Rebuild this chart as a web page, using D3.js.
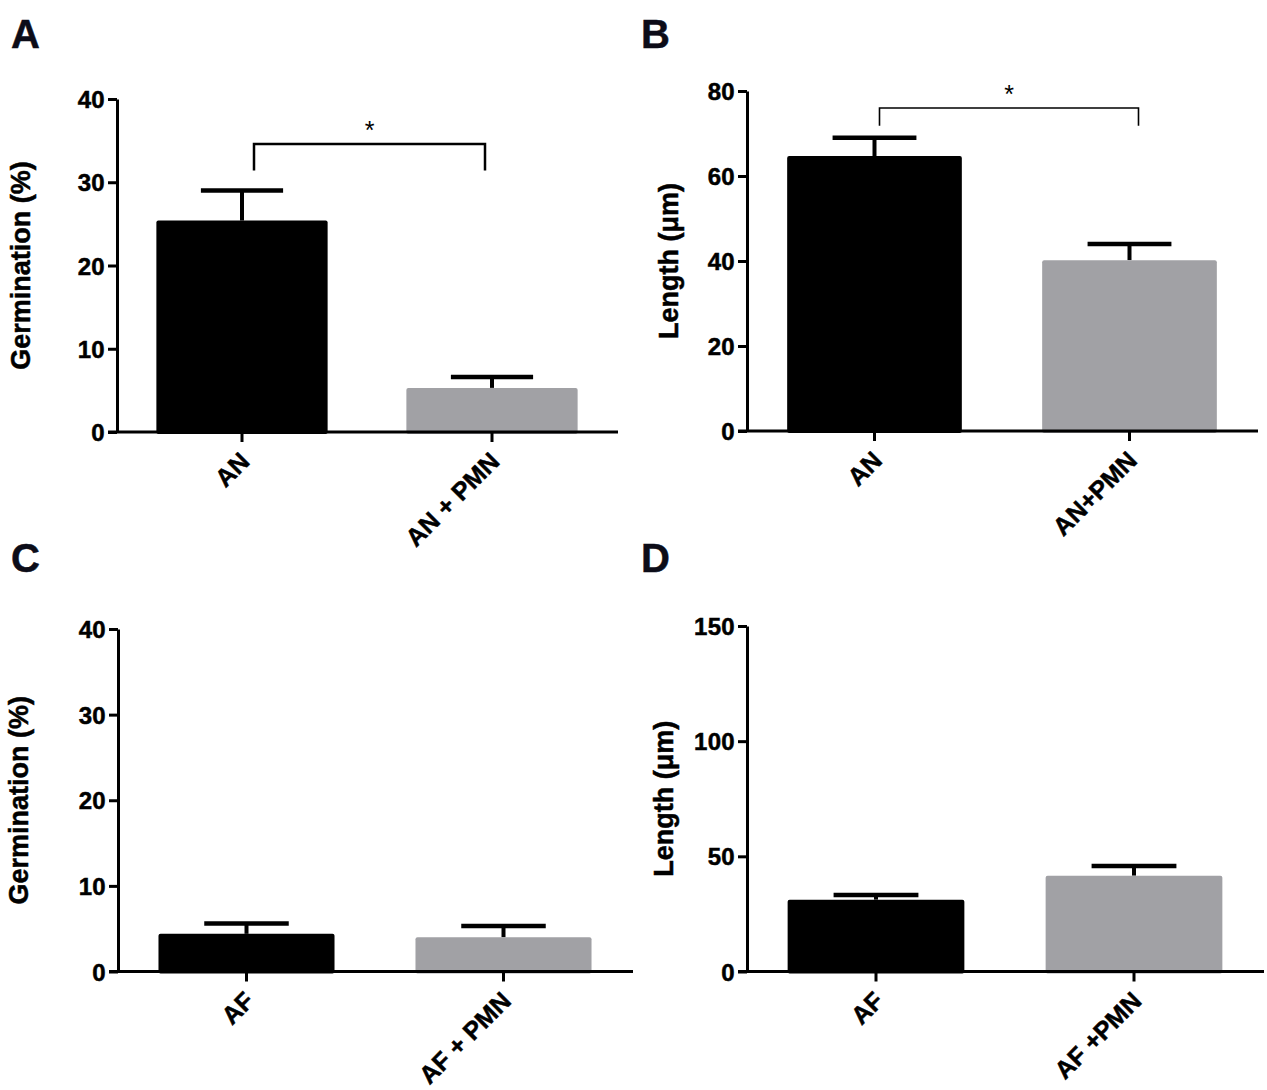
<!DOCTYPE html>
<html>
<head>
<meta charset="utf-8">
<script src="https://cdn.jsdelivr.net/npm/d3@7"></script>
<style>
    body { margin: 0; background: #fff; }
    svg text { font-family: "Liberation Sans", Arial, sans-serif; font-weight: bold; fill: #000; stroke: #000; stroke-width: 0.5px; }
</style>
</head>
<body>
<div id="chart"></div>
<script>
// Values
const catsA = ['AN', 'AN + PMN'];
const meanA = [25.4, 5.3];
const semA = [3.6, 1.3];
const ticksA = [0, 10, 20, 30, 40];

const catsB = ['AN', 'AN+PMN'];
const meanB = [64.7, 40.2];
const semB = [4.3, 3.8];
const ticksB = [0, 20, 40, 60, 80];

const catsC = ['AF', 'AF + PMN'];
const meanC = [4.4, 4.0];
const semC = [1.2, 1.3];
const ticksC = [0, 10, 20, 30, 40];

const catsD = ['AF', 'AF +PMN'];
const meanD = [31.2, 41.6];
const semD = [2.0, 4.2];
const ticksD = [0, 50, 100, 150];

// significance brackets: [y of bar, y of leg ends] in data units
const sigA = [34.6, 31.4];
const sigB = [76.0, 71.8];

const barColors = ['#000000', '#a1a1a5'];

const svg = d3.select('#chart')
    .append('svg')
    .attr('width', 1267)
    .attr('height', 1090);

const panels = [
    { letter: 'A', lx: 11, ly: 48, cats: catsA, mean: meanA, sem: semA, ticks: ticksA,
      left: 117, right: 617, top: 99, bottom: 432, label: 'Germination (%)', labX: 20,
      sig: sigA, sigOff: [12, -7], sigW: 2.5 },
    { letter: 'B', lx: 641, ly: 48, cats: catsB, mean: meanB, sem: semB, ticks: ticksB,
      left: 747, right: 1257, top: 91, bottom: 431, label: 'Length (\u03bcm)', labX: 668,
      sig: sigB, sigOff: [5, 9], sigW: 1.6 },
    { letter: 'C', lx: 11, ly: 572, cats: catsC, mean: meanC, sem: semC, ticks: ticksC,
      left: 118, right: 632, top: 629, bottom: 971.5, label: 'Germination (%)', labX: 18 },
    { letter: 'D', lx: 641, ly: 572, cats: catsD, mean: meanD, sem: semD, ticks: ticksD,
      left: 747, right: 1263, top: 626, bottom: 971.5, label: 'Length (\u03bcm)', labX: 663 }
];

panels.forEach(drawPanel);

function drawPanel(p) {
    const g = svg.append('g');

    const x = d3.scalePoint()
        .domain(p.cats)
        .range([p.left, p.right])
        .padding(0.5);
    const step = x.step();
    const barW = step * 0.685;
    const capW = barW * 0.48;

    const y = d3.scaleLinear()
        .domain([0, d3.max(p.ticks)])
        .range([p.bottom, p.top]);

    const rows = p.cats.map((c, i) => ({ cat: c, mean: p.mean[i], sem: p.sem[i], i: i }));

    // error bars (upper only), stem sits behind the bar
    g.selectAll('.stem')
        .data(rows)
        .enter()
        .append('line')
        .attr('x1', d => x(d.cat))
        .attr('x2', d => x(d.cat))
        .attr('y1', d => y(d.mean))
        .attr('y2', d => y(d.mean + d.sem))
        .attr('stroke', '#000')
        .attr('stroke-width', 4);

    g.selectAll('.cap')
        .data(rows)
        .enter()
        .append('line')
        .attr('x1', d => x(d.cat) - capW / 2)
        .attr('x2', d => x(d.cat) + capW / 2)
        .attr('y1', d => y(d.mean + d.sem))
        .attr('y2', d => y(d.mean + d.sem))
        .attr('stroke', '#000')
        .attr('stroke-width', 4.5);

    // bars
    g.selectAll('.bar')
        .data(rows)
        .enter()
        .append('rect')
        .attr('x', d => x(d.cat) - barW / 2)
        .attr('y', d => y(d.mean))
        .attr('width', barW)
        .attr('height', d => y(0) - y(d.mean) + 2)
        .attr('rx', 2)
        .attr('fill', d => barColors[d.i]);

    // y axis
    const yAxis = d3.axisLeft(y)
        .tickValues(p.ticks)
        .tickSize(9)
        .tickSizeOuter(0)
        .tickPadding(3);
    const ya = g.append('g')
        .attr('transform', `translate(${p.left},0)`)
        .call(yAxis);
    ya.select('.domain').attr('stroke-width', 3).attr('stroke', '#000');
    ya.selectAll('.tick line').attr('stroke-width', 3).attr('stroke', '#000');
    ya.selectAll('.tick text')
        .attr('font-size', 24)
        .attr('dy', '0.36em')
        .attr('letter-spacing', 0.3);

    // x axis line + ticks
    g.append('line')
        .attr('x1', p.left - 9)
        .attr('x2', p.right + 1)
        .attr('y1', p.bottom)
        .attr('y2', p.bottom)
        .attr('stroke', '#000')
        .attr('stroke-width', 3);

    g.selectAll('.xtick')
        .data(p.cats)
        .enter()
        .append('line')
        .attr('x1', d => x(d))
        .attr('x2', d => x(d))
        .attr('y1', p.bottom)
        .attr('y2', p.bottom + 10)
        .attr('stroke', '#000')
        .attr('stroke-width', 3);

    g.selectAll('.xlab')
        .data(p.cats)
        .enter()
        .append('text')
        .attr('transform', d => `translate(${x(d) + 9},${p.bottom + 31}) rotate(-45)`)
        .attr('text-anchor', 'end')
        .attr('font-size', 25)
        .text(d => d);

    // y label
    g.append('text')
        .attr('transform', `translate(${p.labX},${(p.top + p.bottom) / 2}) rotate(-90)`)
        .attr('text-anchor', 'middle')
        .attr('dy', '0.36em')
        .attr('font-size', 27)
        .text(p.label);

    // panel letter
    g.append('text')
        .attr('x', p.lx)
        .attr('y', p.ly)
        .attr('font-size', 40)
        .style('fill', '#0c0c18')
        .style('stroke', '#0c0c18')
        .text(p.letter);

    // significance bracket
    if (p.sig) {
        const x0 = x(p.cats[0]) + p.sigOff[0];
        const x1 = x(p.cats[1]) + p.sigOff[1];
        const path = d3.path();
        path.moveTo(x0, y(p.sig[1]));
        path.lineTo(x0, y(p.sig[0]));
        path.lineTo(x1, y(p.sig[0]));
        path.lineTo(x1, y(p.sig[1]));
        g.append('path')
            .attr('d', path.toString())
            .attr('fill', 'none')
            .attr('stroke', '#000')
            .attr('stroke-width', p.sigW);
        g.append('text')
            .attr('x', (x0 + x1) / 2)
            .attr('y', y(p.sig[0]) - 5)
            .attr('text-anchor', 'middle')
            .attr('font-size', 25)
            .style('font-weight', 'normal')
            .style('stroke-width', '0px')
            .text('*');
    }
}
</script>
</body>
</html>
